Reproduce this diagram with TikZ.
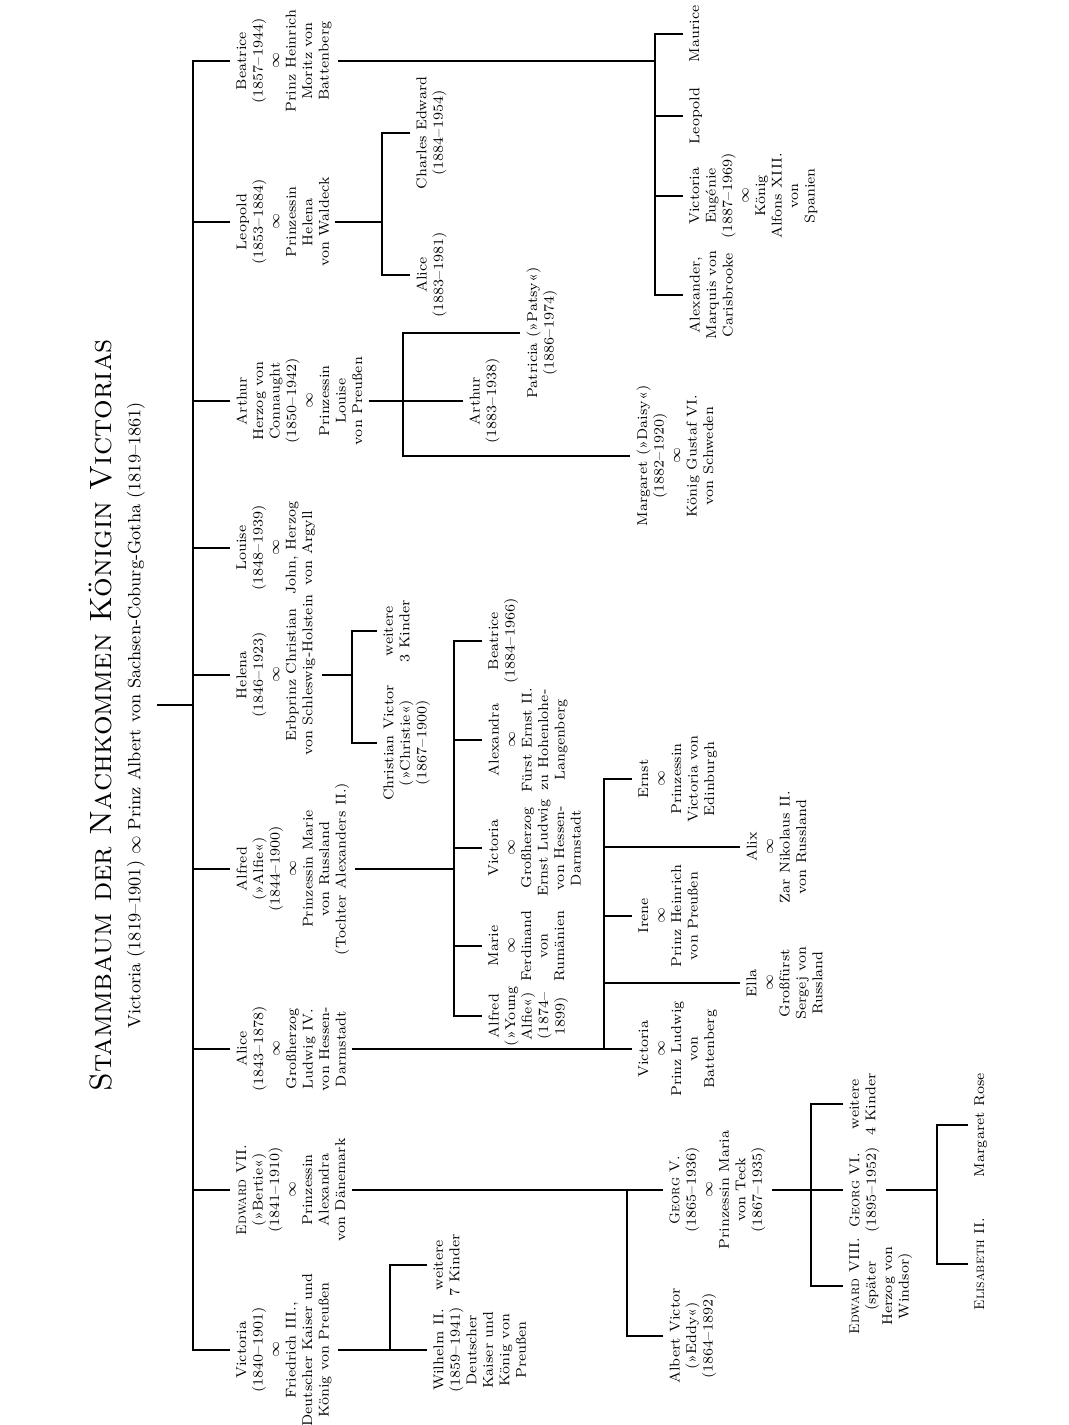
\documentclass[tikz,border=0pt]{standalone}
\usepackage{tikz}

\begin{document}
\begin{tikzpicture}[
  x=0.5pt, y=-0.5pt,
  person/.style={rotate=90, anchor=north, align=center, inner xsep=1pt, inner ysep=3pt,
    font=\fontsize{7.1}{8.25}\selectfont},
  linie/.style={line width=0.9pt},
  titelschrift/.style={rotate=90, font=\fontsize{15.4}{18}\selectfont},
  unterschrift/.style={rotate=90, font=\fontsize{8.9}{10.5}\selectfont}
]
\useasboundingbox (0,0) rectangle (1069,1425);

% --- Titel ---
\node[titelschrift] (titel) at (101,715) {\textsc{Stammbaum der Nachkommen Königin Victorias}};
\node[unterschrift] (untertitel) at (136,715) {Victoria (1819–1901) $\infty$ Prinz Albert von Sachsen-Coburg-Gotha (1819–1861)};

% --- Kinder ---
\node[person] (beatrice) at (230,61) {Beatrice\\(1857–1944)\\$\infty$\\Prinz Heinrich\\Moritz von\\Battenberg};
\node[person] (leopold) at (230,222) {Leopold\\(1853–1884)\\$\infty$\\Prinzessin\\Helena\\von Waldeck};
\node[person] (arthur) at (230,401) {Arthur\\Herzog von\\Connaught\\(1850–1942)\\$\infty$\\Prinzessin\\Louise\\von Preußen};
\node[person] (louise) at (230,548) {Louise\\(1848–1939)\\$\infty$\\John, Herzog\\von Argyll};
\node[person] (helena) at (230,675) {Helena\\(1846–1923)\\$\infty$\\Erbprinz Christian\\von Schleswig-Holstein};
\node[person] (alfred) at (230,869) {Alfred\\(»Alfie«)\\(1844–1900)\\$\infty$\\Prinzessin Marie\\von Russland\\(Tochter Alexanders II.)};
\node[person] (alice) at (230,1049) {Alice\\(1843–1878)\\$\infty$\\Großherzog\\Ludwig IV.\\von Hessen-\\Darmstadt};
\node[person] (edward) at (230,1190) {\textsc{Edward} VII.\\(»Bertie«)\\(1841–1910)\\$\infty$\\Prinzessin\\Alexandra\\von Dänemark};
\node[person] (victoria) at (230,1350) {Victoria\\(1840–1901)\\$\infty$\\Friedrich III.,\\Deutscher Kaiser und\\König von Preußen};

% --- Stamm ---
\coordinate (eltern) at (157,705);
\coordinate (jStamm) at (193,705);
\draw[linie] (eltern) -- (jStamm);
\draw[linie] (beatrice.north) -| (jStamm) |- (victoria.north);
\foreach \k in {leopold, arthur, louise, helena, alfred, alice, edward}
  \draw[linie] (\k.north) -- (\k.north -| jStamm);

% --- Beatrice ---
\node[person] (maurice) at (683,34) {Maurice};
\node[person] (bleopold) at (683,116) {Leopold};
\node[person] (eugenie) at (683,196) {Victoria\\Eugénie\\(1887–1969)\\$\infty$\\König\\Alfons XIII.\\von\\Spanien};
\node[person] (alexander) at (683,295) {Alexander,\\Marquis von\\Carisbrooke};
\coordinate (jBea) at (655,61);
\draw[linie] (beatrice.south) -- (jBea);
\draw[linie] (maurice.north) -| (jBea) |- (alexander.north);
\foreach \k in {bleopold, eugenie}
  \draw[linie] (\k.north) -- (\k.north -| jBea);

% --- Leopold ---
\node[person] (charles) at (410,133) {Charles Edward\\(1884–1954)};
\node[person] (lalice) at (410,275) {Alice\\(1883–1981)};
\coordinate (jLeo) at (382,222);
\draw[linie] (leopold.south) -- (jLeo);
\draw[linie] (charles.north) -| (jLeo) |- (lalice.north);

% --- Arthur ---
\node[person] (aarthur) at (463,401) {Arthur\\(1883–1938)};
\node[person] (patricia) at (520,333) {Patricia (»Patsy«)\\(1886–1974)};
\node[person] (margaret) at (630,456) {Margaret (»Daisy«)\\(1882–1920)\\$\infty$\\König Gustaf VI.\\von Schweden};
\coordinate (jArt) at (403,401);
\draw[linie] (arthur.south) -- (aarthur.north);
\draw[linie] (patricia.north) -| (jArt) |- (margaret.north);

% --- Helena ---
\node[person] (hweitere) at (377,631) {weitere\\3 Kinder};
\node[person] (christian) at (377,743) {Christian Victor\\(»Christie«)\\(1867–1900)};
\coordinate (jHel) at (352,675);
\draw[linie] (helena.south) -- (jHel);
\draw[linie] (hweitere.north) -| (jHel) |- (christian.north);

% --- Alfred ---
\node[person] (fbeatrice) at (482,641) {Beatrice\\(1884–1966)};
\node[person] (alexandra) at (482,740) {Alexandra\\$\infty$\\Fürst Ernst II.\\zu Hohenlohe-\\Langenberg};
\node[person] (fvictoria) at (482,848) {Victoria\\$\infty$\\Großherzog\\Ernst Ludwig\\von Hessen-\\Darmstadt};
\node[person] (marie) at (482,946) {Marie\\$\infty$\\Ferdinand\\von\\Rumänien};
\node[person] (falfred) at (482,1016) {Alfred\\(»Young\\Alfie«)\\(1874–\\1899)};
\coordinate (jAlf) at (454,869);
\draw[linie] (alfred.south) -- (jAlf);
\draw[linie] (fbeatrice.north) -| (jAlf) |- (falfred.north);
\foreach \k in {alexandra, fvictoria, marie}
  \draw[linie] (\k.north) -- (\k.north -| jAlf);

% --- Alice ---
\node[person] (ernst) at (632,779) {Ernst\\$\infty$\\Prinzessin\\Victoria von\\Edinburgh};
\node[person] (alix) at (740,847) {Alix\\$\infty$\\Zar Nikolaus II.\\von Russland};
\node[person] (irene) at (632,916) {Irene\\$\infty$\\Prinz Heinrich\\von Preußen};
\node[person] (ella) at (740,983) {Ella\\$\infty$\\Großfürst\\Sergej von\\Russland};
\node[person] (avictoria) at (632,1049) {Victoria\\$\infty$\\Prinz Ludwig\\von\\Battenberg};
\coordinate (jAli) at (604,1049);
\draw[linie] (alice.south) -- (avictoria.north);
\draw[linie] (ernst.north) -| (jAli);
\foreach \k in {alix, irene, ella}
  \draw[linie] (\k.north) -- (\k.north -| jAli);

% --- Edward VII. ---
\node[person] (georgv) at (663,1190) {\textsc{Georg} V.\\(1865–1936)\\$\infty$\\Prinzessin Maria\\von Teck\\(1867–1935)};
\node[person] (albert) at (663,1336) {Albert Victor\\(»Eddy«)\\(1864–1892)};
\coordinate (jEdw) at (627,1190);
\draw[linie] (edward.south) -- (georgv.north);
\draw[linie] (jEdw) |- (albert.north);

% --- Georg V. ---
\node[person] (gweitere) at (843,1104) {weitere\\4 Kinder};
\node[person] (georgvi) at (843,1190) {\textsc{Georg} VI.\\(1895–1952)};
\node[person] (edwardviii) at (843,1286) {\textsc{Edward} VIII.\\(später\\Herzog von\\Windsor)};
\coordinate (jGeo) at (811,1190);
\draw[linie] (georgv.south) -- (georgvi.north);
\draw[linie] (gweitere.north) -| (jGeo) |- (edwardviii.north);

% --- Georg VI. ---
\node[person] (margrose) at (968,1125) {Margaret Rose};
\node[person] (elisabeth) at (968,1264) {\textsc{Elisabeth} II.};
\coordinate (jGvi) at (937,1190);
\draw[linie] (georgvi.south) -- (jGvi);
\draw[linie] (margrose.north) -| (jGvi) |- (elisabeth.north);

% --- Victoria ---
\node[person] (wilhelm) at (427,1350) {Wilhelm II.\\(1859–1941)\\Deutscher\\Kaiser und\\König von\\Preußen};
\node[person] (vweitere) at (427,1265) {weitere\\7 Kinder};
\coordinate (jVic) at (390,1350);
\draw[linie] (victoria.south) -- (wilhelm.north);
\draw[linie] (vweitere.north) -| (jVic);
\end{tikzpicture}
\end{document}
